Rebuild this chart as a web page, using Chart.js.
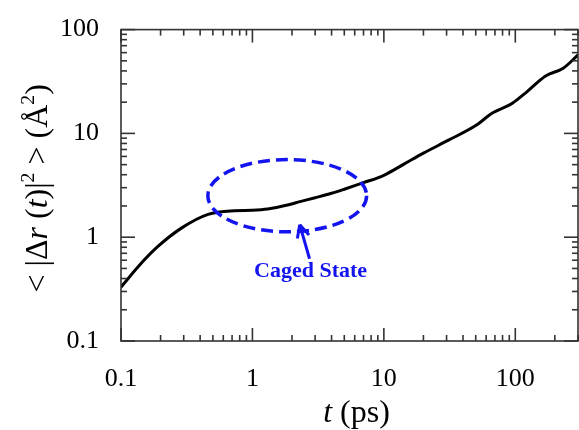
<!DOCTYPE html>
<html>
<head>
<meta charset="utf-8">
<script src="https://cdn.jsdelivr.net/npm/chart.js@4"></script>
<style>
  html, body { margin: 0; padding: 0; background: #fff; }
  #wrap { width: 579px; height: 430px; }
</style>
</head>
<body>
<div id="wrap"><canvas id="msdChart"></canvas></div>
<script>
// mean square displacement vs time (log-log)
const timePs = [0.1, 0.135, 0.19, 0.29, 0.46, 0.73, 1.0, 1.31, 1.85, 2.3, 3, 4, 5, 7, 10, 14, 20, 31, 50, 67, 95, 120, 170, 230, 300];
const msd = [0.33, 0.52, 0.81, 1.23, 1.66, 1.80, 1.82, 1.87, 2.04, 2.2, 2.4, 2.65, 2.9, 3.35, 3.95, 5.0, 6.45, 8.6, 11.9, 15.7, 19.5, 24.6, 35.8, 42.2, 57];

const xMajor = [0.1, 1, 10, 100];
const yMajor = [0.1, 1, 10, 100];
const xLabels = ["0.1", "1", "10", "100"];
const yLabels = ["0.1", "1", "10", "100"];

// "caged state" annotation, in data units (centre in t / msd, half axes in decades)
const cageCenter = { t: 1.84, y: 2.51 };
const cageHalfDecades = { x: 0.604, y: 0.348 };
const arrowTip = { t: 2.29, y: 1.32 };
const arrowTail = { t: 2.72, y: 0.62 };
const cageLabel = { t: 2.77, y: 0.416, text: "Caged State" };

const BLUE = "rgb(20,20,240)";
const SERIF = "'Liberation Serif', 'DejaVu Serif', serif";

function minorTicks(lo, hi) {
  const out = [];
  for (let d = lo; d < hi; d *= 10) {
    for (let k = 2; k <= 9; k++) {
      const v = +(k * d).toPrecision(3);
      if (v <= hi) out.push(v);
    }
  }
  return out;
}

function drawRich(ctx, segs, size, x, y) {
  const fontFor = (s) => (s.italic ? "italic " : "") + (s.sup ? size * 0.62 : size) + "px " + SERIF;
  let total = 0;
  segs.forEach((s) => { ctx.font = fontFor(s); total += ctx.measureText(s.t).width; });
  let cx = x - total / 2;
  segs.forEach((s) => {
    ctx.font = fontFor(s);
    ctx.fillText(s.t, cx, s.sup ? y - size * 0.42 : y);
    cx += ctx.measureText(s.t).width;
  });
}

const framePlugin = {
  id: "frame",
  afterDatasetsDraw(chart) {
    const { ctx, chartArea: a, scales } = chart;
    const xs = scales.x, ys = scales.y;
    ctx.save();
    // frame
    ctx.strokeStyle = "#333";
    ctx.lineWidth = 1.6;
    ctx.strokeRect(a.left, a.top, a.right - a.left, a.bottom - a.top);
    // inward ticks on all sides
    const tick = (x1, y1, x2, y2) => { ctx.beginPath(); ctx.moveTo(x1, y1); ctx.lineTo(x2, y2); ctx.stroke(); };
    const xMinor = minorTicks(0.1, 300), yMinor = minorTicks(0.1, 100);
    xMajor.forEach((v) => { const p = xs.getPixelForValue(v); tick(p, a.bottom, p, a.bottom - 13); tick(p, a.top, p, a.top + 13); });
    xMinor.forEach((v) => { const p = xs.getPixelForValue(v); tick(p, a.bottom, p, a.bottom - 6); tick(p, a.top, p, a.top + 6); });
    yMajor.forEach((v) => { const p = ys.getPixelForValue(v); tick(a.left, p, a.left + 14, p); tick(a.right, p, a.right - 14, p); });
    yMinor.forEach((v) => { const p = ys.getPixelForValue(v); tick(a.left, p, a.left + 6, p); tick(a.right, p, a.right - 6, p); });

    // dashed ellipse
    const ex = xs.getPixelForValue(cageCenter.t), ey = ys.getPixelForValue(cageCenter.y);
    const rx = xs.getPixelForValue(cageCenter.t * Math.pow(10, cageHalfDecades.x)) - ex;
    const ry = ey - ys.getPixelForValue(cageCenter.y * Math.pow(10, cageHalfDecades.y));
    ctx.strokeStyle = BLUE;
    ctx.lineWidth = 3.5;
    ctx.setLineDash([12, 6]);
    ctx.beginPath();
    ctx.ellipse(ex, ey, rx, ry, 0, 0, Math.PI * 2);
    ctx.stroke();
    ctx.setLineDash([]);

    // arrow
    const tx = xs.getPixelForValue(arrowTip.t), ty = ys.getPixelForValue(arrowTip.y);
    const sx = xs.getPixelForValue(arrowTail.t), sy = ys.getPixelForValue(arrowTail.y);
    ctx.lineWidth = 3;
    tick(sx, sy, tx, ty);
    const ang = Math.atan2(ty - sy, tx - sx);
    [0.45, -0.45].forEach((da) => {
      tick(tx, ty, tx - 14 * Math.cos(ang + da), ty - 14 * Math.sin(ang + da));
    });
    ctx.fillStyle = BLUE;
    ctx.font = "bold 22px " + SERIF;
    ctx.textAlign = "center";
    ctx.textBaseline = "alphabetic";
    ctx.fillText(cageLabel.text, xs.getPixelForValue(cageLabel.t), ys.getPixelForValue(cageLabel.y));

    // axis titles
    ctx.fillStyle = "#000";
    ctx.textAlign = "left";
    drawRich(ctx, [{ t: "t", italic: true }, { t: " (ps)" }], 32, (a.left + a.right) / 2 + 7, 422);
    ctx.translate(47, (a.top + a.bottom) / 2 + 3);
    ctx.rotate(-Math.PI / 2);
    drawRich(ctx, [
      { t: "< |\u0394" }, { t: "r", italic: true }, { t: " (" }, { t: "t", italic: true },
      { t: ")|" }, { t: "2", sup: true }, { t: " > (\u00C5" }, { t: "2", sup: true }, { t: ")" }
    ], 32, 0, 0);
    ctx.restore();
  }
};

new Chart(document.getElementById("msdChart"), {
  type: "line",
  data: {
    labels: timePs,
    datasets: [
      {
        data: timePs.map((t, i) => ({ x: t, y: msd[i] })),
        borderColor: "#000",
        borderWidth: 3,
        pointRadius: 0,
        cubicInterpolationMode: "monotone",
        fill: false,
      },
    ],
  },
  options: {
    responsive: true,
    maintainAspectRatio: false,
    animation: false,
    layout: { padding: { top: 22, right: 1, left: 0, bottom: 0 } },
    plugins: { legend: { display: false }, tooltip: { enabled: false } },
    scales: {
      x: {
        type: "logarithmic",
        min: 0.1,
        max: 300,
        grid: { display: false },
        border: { display: false },
        afterBuildTicks: (s) => { s.ticks = xMajor.map((v) => ({ value: v })); },
        afterFit: (s) => { s.height = 89; },
        ticks: {
          autoSkip: false,
          maxRotation: 0,
          padding: 15,
          color: "#000",
          font: { family: SERIF, size: 26 },
          callback: (v) => xLabels[xMajor.indexOf(v)] ?? "",
        },
      },
      y: {
        type: "logarithmic",
        min: 0.1,
        max: 100,
        grid: { display: false },
        border: { display: false },
        afterBuildTicks: (s) => { s.ticks = yMajor.map((v) => ({ value: v })); },
        afterFit: (s) => { s.width = 121; },
        ticks: {
          autoSkip: false,
          padding: 14,
          color: "#000",
          font: { family: SERIF, size: 26 },
          callback: (v) => yLabels[yMajor.indexOf(v)] ?? "",
        },
      },
    },
  },
  plugins: [framePlugin],
});
</script>
</body>
</html>
